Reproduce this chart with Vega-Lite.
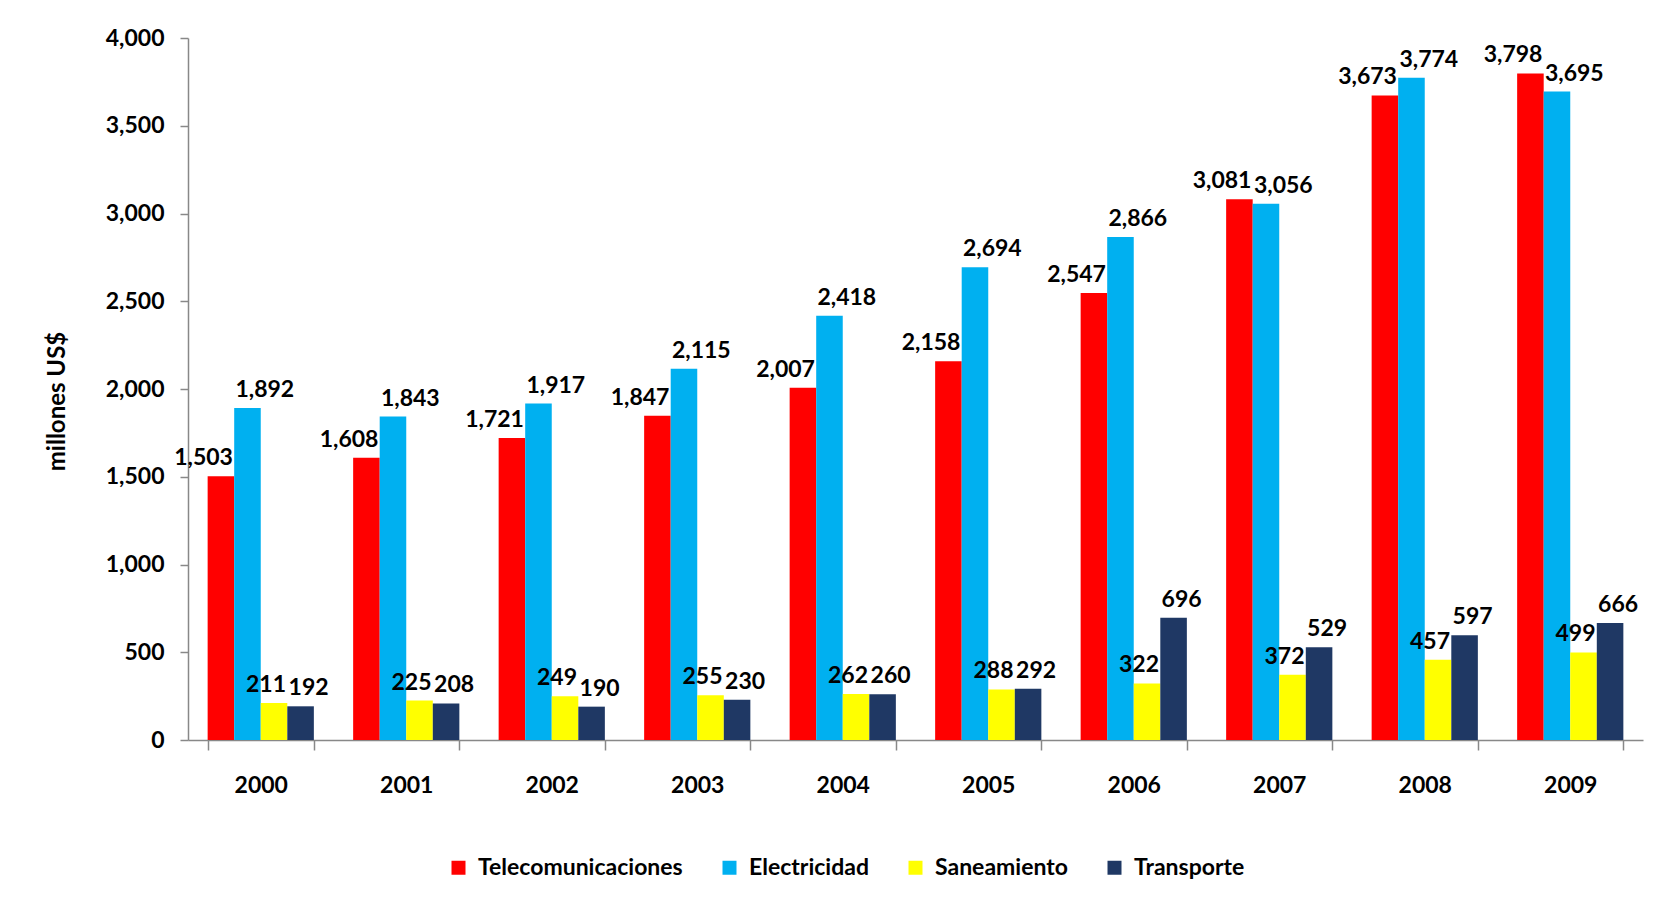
{
  "$schema": "https://vega.github.io/schema/vega-lite/v6.json",
  "autosize": {"type": "none"},
  "width": 1455,
  "height": 702,
  "padding": {"left": 188, "top": 38, "right": 29, "bottom": 170},
  "background": "white",
  "config": {
    "view": {"stroke": null},
    "font": "Lato",
    "axis": {"labelFont": "Lato", "titleFont": "Lato", "labelColor": "black", "titleColor": "black", "domainColor": "#888888", "tickColor": "#888888", "grid": false},
    "legend": {"labelFont": "Lato"}
  },
  "data": {
    "values": [
      {"anio": "2000", "serie": "Telecomunicaciones", "valor": 1503},
      {"anio": "2000", "serie": "Electricidad", "valor": 1892},
      {"anio": "2000", "serie": "Saneamiento", "valor": 211},
      {"anio": "2000", "serie": "Transporte", "valor": 192},
      {"anio": "2001", "serie": "Telecomunicaciones", "valor": 1608},
      {"anio": "2001", "serie": "Electricidad", "valor": 1843},
      {"anio": "2001", "serie": "Saneamiento", "valor": 225},
      {"anio": "2001", "serie": "Transporte", "valor": 208},
      {"anio": "2002", "serie": "Telecomunicaciones", "valor": 1721},
      {"anio": "2002", "serie": "Electricidad", "valor": 1917},
      {"anio": "2002", "serie": "Saneamiento", "valor": 249},
      {"anio": "2002", "serie": "Transporte", "valor": 190},
      {"anio": "2003", "serie": "Telecomunicaciones", "valor": 1847},
      {"anio": "2003", "serie": "Electricidad", "valor": 2115},
      {"anio": "2003", "serie": "Saneamiento", "valor": 255},
      {"anio": "2003", "serie": "Transporte", "valor": 230},
      {"anio": "2004", "serie": "Telecomunicaciones", "valor": 2007},
      {"anio": "2004", "serie": "Electricidad", "valor": 2418},
      {"anio": "2004", "serie": "Saneamiento", "valor": 262},
      {"anio": "2004", "serie": "Transporte", "valor": 260},
      {"anio": "2005", "serie": "Telecomunicaciones", "valor": 2158},
      {"anio": "2005", "serie": "Electricidad", "valor": 2694},
      {"anio": "2005", "serie": "Saneamiento", "valor": 288},
      {"anio": "2005", "serie": "Transporte", "valor": 292},
      {"anio": "2006", "serie": "Telecomunicaciones", "valor": 2547},
      {"anio": "2006", "serie": "Electricidad", "valor": 2866},
      {"anio": "2006", "serie": "Saneamiento", "valor": 322},
      {"anio": "2006", "serie": "Transporte", "valor": 696},
      {"anio": "2007", "serie": "Telecomunicaciones", "valor": 3081},
      {"anio": "2007", "serie": "Electricidad", "valor": 3056},
      {"anio": "2007", "serie": "Saneamiento", "valor": 372},
      {"anio": "2007", "serie": "Transporte", "valor": 529},
      {"anio": "2008", "serie": "Telecomunicaciones", "valor": 3673},
      {"anio": "2008", "serie": "Electricidad", "valor": 3774},
      {"anio": "2008", "serie": "Saneamiento", "valor": 457},
      {"anio": "2008", "serie": "Transporte", "valor": 597},
      {"anio": "2009", "serie": "Telecomunicaciones", "valor": 3798},
      {"anio": "2009", "serie": "Electricidad", "valor": 3695},
      {"anio": "2009", "serie": "Saneamiento", "valor": 499},
      {"anio": "2009", "serie": "Transporte", "valor": 666}
    ]
  },
  "encoding": {
    "x": {
      "field": "anio", "type": "nominal",
      "scale": {"paddingInner": 0.27, "paddingOuter": 0.135},
      "axis": {
        "title": null, "labelAngle": 0, "labelFontSize": 23, "labelFontWeight": "bold",
        "tickBand": "extent", "tickSize": 10, "labelPadding": 24, "domainWidth": 1.5, "tickWidth": 1.5
      }
    },
    "xOffset": {
      "field": "serie", "type": "nominal",
      "sort": ["Telecomunicaciones", "Electricidad", "Saneamiento", "Transporte"],
      "scale": {"paddingInner": 0, "paddingOuter": 0}
    },
    "y": {
      "field": "valor", "type": "quantitative",
      "scale": {"domain": [0, 4000], "nice": false},
      "axis": {
        "title": "millones  US$", "values": [0, 500, 1000, 1500, 2000, 2500, 3000, 3500, 4000],
        "format": ",.0f", "labelFontSize": 23, "labelFontWeight": "bold", "tickSize": 8, "labelPadding": 16,
        "titleFontSize": 24, "titleFontWeight": "bold", "titleAngle": -90, "titleBaseline": "middle", "titleAlign": "center",
        "titleX": -131, "titleY": 363, "domainWidth": 1.5, "tickWidth": 1.5
      }
    }
  },
  "layer": [
    {
      "mark": {"type": "bar"},
      "encoding": {
        "color": {
          "field": "serie", "type": "nominal",
          "sort": ["Telecomunicaciones", "Electricidad", "Saneamiento", "Transporte"],
          "scale": {"domain": ["Telecomunicaciones", "Electricidad", "Saneamiento", "Transporte"], "range": ["#FF0000", "#00B0F0", "#FFFF00", "#1F3864"]},
          "legend": {
            "title": null, "orient": "none", "direction": "horizontal", "legendX": 259, "legendY": 818,
            "symbolType": "square", "symbolSize": 196, "symbolStrokeWidth": 0, "labelFontSize": 23, "labelFontWeight": "bold",
            "labelColor": "black", "labelOffset": 8, "columnPadding": 35, "labelLimit": 500
          }
        }
      }
    },
    {
      "transform": [{"filter": "datum.serie === 'Telecomunicaciones' || datum.serie === 'Saneamiento'"}],
      "mark": {"type": "text", "align": "right", "baseline": "bottom", "dx": 12, "dy": -6, "fontSize": 23, "fontWeight": "bold", "color": "black", "font": "Lato"},
      "encoding": {
        "text": {"field": "valor", "type": "quantitative", "format": ",.0f"}
      }
    },
    {
      "transform": [{"filter": "datum.serie === 'Electricidad' || datum.serie === 'Transporte'"}],
      "mark": {"type": "text", "align": "left", "baseline": "bottom", "dx": -12, "dy": -6, "fontSize": 23, "fontWeight": "bold", "color": "black", "font": "Lato"},
      "encoding": {
        "text": {"field": "valor", "type": "quantitative", "format": ",.0f"}
      }
    }
  ]
}
